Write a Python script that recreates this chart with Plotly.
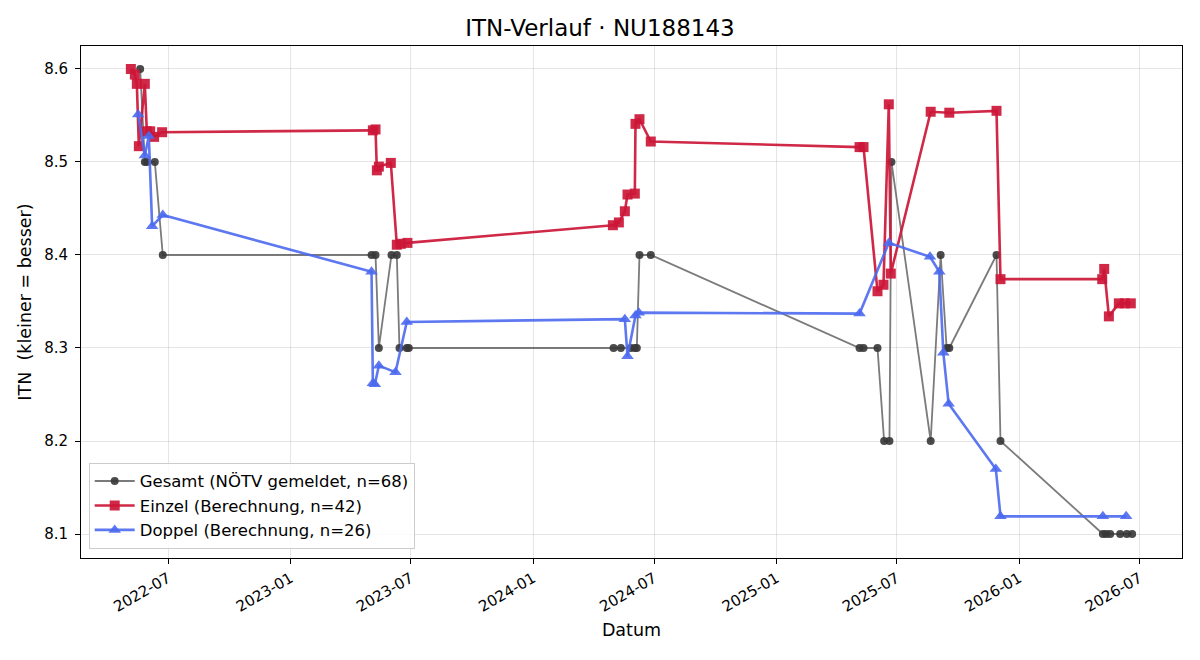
import plotly.graph_objects as go

# ---------------- data ----------------
gesamt_dates = [
    "2022-05-20", "2022-05-27", "2022-05-30", "2022-06-11", "2022-06-23",
    "2023-05-03", "2023-05-09", "2023-05-14", "2023-06-02", "2023-06-10",
    "2023-06-14", "2023-06-25", "2023-06-28",
    "2024-05-01", "2024-05-12", "2024-05-27", "2024-06-02", "2024-06-05",
    "2024-06-09", "2024-06-26",
    "2025-05-06", "2025-05-12", "2025-06-02", "2025-06-12", "2025-06-20",
    "2025-06-23", "2025-08-21", "2025-09-05", "2025-09-14", "2025-09-18",
    "2025-11-28", "2025-12-04",
    "2026-05-07", "2026-05-12", "2026-05-18", "2026-06-02", "2026-06-12",
    "2026-06-20",
]
gesamt_vals = [
    8.6, 8.5, 8.5, 8.5, 8.4,
    8.4, 8.4, 8.3, 8.4, 8.4,
    8.3, 8.3, 8.3,
    8.3, 8.3, 8.3, 8.3, 8.3,
    8.4, 8.4,
    8.3, 8.3, 8.3, 8.2, 8.2,
    8.5, 8.2, 8.4, 8.3, 8.3,
    8.4, 8.2,
    8.1, 8.1, 8.1, 8.1, 8.1,
    8.1,
]

einzel_dates = [
    "2022-05-06", "2022-05-12", "2022-05-15", "2022-05-18", "2022-05-27",
    "2022-05-30", "2022-06-04", "2022-06-10", "2022-06-22",
    "2023-05-05", "2023-05-09", "2023-05-11", "2023-05-14", "2023-06-01",
    "2023-06-10", "2023-06-16", "2023-06-26",
    "2024-04-30", "2024-05-09", "2024-05-18", "2024-05-22", "2024-06-02",
    "2024-06-03", "2024-06-09", "2024-06-26",
    "2025-05-06", "2025-05-12", "2025-06-02", "2025-06-11", "2025-06-19",
    "2025-06-22", "2025-08-21", "2025-09-18", "2025-11-28", "2025-12-04",
    "2026-05-06", "2026-05-09", "2026-05-16", "2026-05-31", "2026-06-09",
    "2026-06-18",
]
einzel_vals = [
    8.600, 8.594, 8.584, 8.517, 8.584,
    8.533, 8.533, 8.527, 8.532,
    8.534, 8.535, 8.491, 8.495, 8.499,
    8.411, 8.412, 8.413,
    8.432, 8.435, 8.447, 8.465, 8.466,
    8.541, 8.546, 8.522,
    8.516, 8.516, 8.361, 8.368, 8.562,
    8.380, 8.554, 8.553, 8.555, 8.374,
    8.374, 8.385, 8.334, 8.348, 8.348,
    8.348,
]

doppel_dates = [
    "2022-05-17", "2022-05-27", "2022-06-02", "2022-06-07", "2022-06-23",
    "2023-05-03", "2023-05-05", "2023-05-08", "2023-05-14", "2023-06-08",
    "2023-06-25",
    "2024-05-18", "2024-05-22", "2024-06-03", "2024-06-08",
    "2025-05-06", "2025-06-19", "2025-08-20", "2025-09-03", "2025-09-09",
    "2025-09-17", "2025-11-27", "2025-12-04",
    "2026-05-07", "2026-06-11",
]
doppel_vals = [
    8.551, 8.507, 8.528, 8.431, 8.443,
    8.382, 8.262, 8.261, 8.281, 8.274,
    8.328,
    8.331, 8.291, 8.335, 8.338,
    8.337, 8.413, 8.398, 8.382, 8.295,
    8.240, 8.170, 8.119,
    8.119, 8.119,
]

title = "ITN-Verlauf · NU188143"
x_label = "Datum"
y_label = "ITN  (kleiner = besser)"
names = [
    "Gesamt (NÖTV gemeldet, n=68)",
    "Einzel (Berechnung, n=42)",
    "Doppel (Berechnung, n=26)",
]

# ---------------- figure ----------------
fig = go.Figure()

fig.add_trace(go.Scatter(
    x=gesamt_dates, y=gesamt_vals, mode="lines+markers", name=names[0],
    line=dict(color="rgba(90,90,90,0.8)", width=1.8),
    marker=dict(symbol="circle", size=8, color="rgba(55,55,55,0.9)",
                line=dict(width=0)),
))
fig.add_trace(go.Scatter(
    x=einzel_dates, y=einzel_vals, mode="lines+markers", name=names[1],
    line=dict(color="rgba(204,22,55,0.92)", width=2.6),
    marker=dict(symbol="square", size=10, color="rgba(204,22,55,0.92)",
                line=dict(width=0)),
))
fig.add_trace(go.Scatter(
    x=doppel_dates, y=doppel_vals, mode="lines+markers", name=names[2],
    line=dict(color="rgba(75,105,238,0.9)", width=2.6),
    marker=dict(symbol="triangle-up", size=11, color="rgba(75,105,238,0.9)",
                line=dict(width=0)),
))

fig.update_layout(
    width=1200, height=660,
    margin=dict(l=81, r=18, t=46, b=102),
    paper_bgcolor="white", plot_bgcolor="white",
    font=dict(family="DejaVu Sans", size=15, color="black"),
    title=dict(text=title, x=0.5, xanchor="center", y=0.957, yanchor="middle",
               font=dict(size=23, color="black")),
    showlegend=True,
    legend=dict(x=0.007, y=0.018, xanchor="left", yanchor="bottom",
                bgcolor="rgba(255,255,255,0.85)", bordercolor="#cccccc",
                borderwidth=1, font=dict(size=16.5), tracegroupgap=0,
                itemwidth=40),
)

fig.update_xaxes(
    type="date",
    range=["2022-02-20", "2026-09-03"],
    tick0="2022-01-01", dtick="M6", tickformat="%Y-%m",
    tickangle=-30, ticks="outside", ticklen=5, tickcolor="black",
    tickfont=dict(size=15),
    showgrid=True, gridcolor="rgba(0,0,0,0.1)", gridwidth=1,
    showline=True, linecolor="black", linewidth=1, mirror=True,
    zeroline=False,
    title=dict(text=x_label, font=dict(size=17.5), standoff=8),
)
fig.update_yaxes(
    range=[8.0742, 8.6247],
    tick0=8.1, dtick=0.1, tickformat=".1f",
    ticks="outside", ticklen=5, tickcolor="black",
    tickfont=dict(size=15), ticklabelstandoff=4,
    showgrid=True, gridcolor="rgba(0,0,0,0.1)", gridwidth=1,
    showline=True, linecolor="black", linewidth=1, mirror=True,
    zeroline=False,
    title=dict(text=y_label, font=dict(size=17.5), standoff=8),
)

fig.write_html("out.html")
